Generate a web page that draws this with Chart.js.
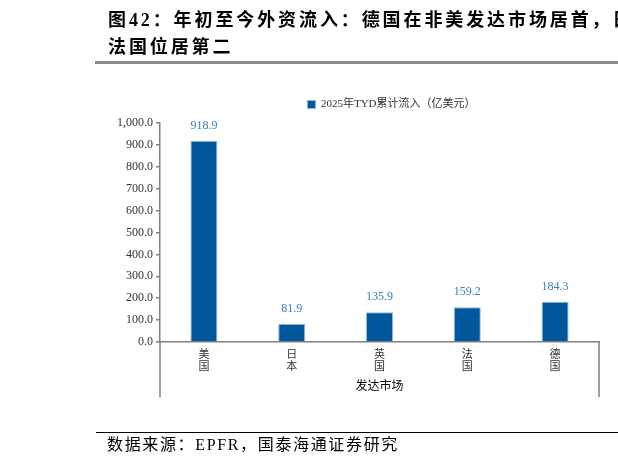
<!DOCTYPE html>
<html>
<head>
<meta charset="utf-8">
<script src="https://cdn.jsdelivr.net/npm/chart.js@4.4.1/dist/chart.umd.min.js"></script>
<style>
  html, body { margin: 0; padding: 0; background: #fff; overflow: hidden; }
  body { width: 618px; height: 469px; position: relative; }
  #chart-wrap { position: absolute; left: 0; top: 0; width: 618px; height: 469px; }
  .title {
    position: absolute; left: 108px; top: 7px; width: 560px;
    font-family: "Liberation Serif", "Noto Sans CJK SC", serif;
    font-weight: bold; font-size: 18px; line-height: 27px; letter-spacing: 2.9px;
    color: #000; white-space: nowrap;
  }
  .rule-top { position: absolute; left: 95px; top: 61px; width: 523px; height: 3px; background: #8c8c8c; }
  .rule-bottom { position: absolute; left: 96px; top: 432px; width: 522px; height: 1px; background: #000; }
  .source {
    position: absolute; left: 107px; top: 436px;
    font-family: "Liberation Serif", "Noto Sans CJK SC", serif;
    font-size: 16px; line-height: 18px; letter-spacing: 1.65px; color: #000; white-space: nowrap;
  }
</style>
</head>
<body>
<div id="chart-wrap"><canvas id="myChart" width="618" height="469"></canvas></div>
<div class="title">图42：年初至今外资流入：德国在非美发达市场居首，日<br>法国位居第二</div>
<div class="rule-top"></div>
<div class="rule-bottom"></div>
<div class="source">数据来源：EPFR，国泰海通证券研究</div>

<script>
// data
const markets = ['美国', '日本', '英国', '法国', '德国'];
const inflows = [918.9, 81.9, 135.9, 159.2, 184.3];
const seriesName = '2025年TYD累计流入（亿美元）';
const axisTitle = '发达市场';
const yTicks = [0, 100, 200, 300, 400, 500, 600, 700, 800, 900, 1000];

const barColor = '#01579b';
const labelColor = '#3b7dbf';
const axisColor = '#808080';
const serif = '"Liberation Serif", "Noto Sans CJK SC", serif';

let ctx = document.getElementById('myChart').getContext('2d');

// value labels above each bar
const valueLabels = {
    id: 'valueLabels',
    afterDatasetsDraw(chart) {
        const c = chart.ctx;
        const meta = chart.getDatasetMeta(0);
        c.save();
        c.font = '12px ' + serif;
        c.fillStyle = labelColor;
        c.textAlign = 'center';
        c.textBaseline = 'middle';
        meta.data.forEach((bar, i) => {
            c.fillText(inflows[i].toFixed(1), bar.x, bar.y - 15);
        });
        c.restore();
    },
};

// the frame lines that run down past the x axis
const frameLines = {
    id: 'frameLines',
    afterDraw(chart) {
        const a = chart.chartArea;
        const c = chart.ctx;
        c.save();
        c.strokeStyle = axisColor;
        c.lineWidth = 1.5;
        c.beginPath();
        c.moveTo(a.left, a.bottom);
        c.lineTo(a.left, a.bottom + 55);
        c.moveTo(a.right, a.bottom);
        c.lineTo(a.right, a.bottom + 55);
        c.stroke();
        c.restore();
    },
};

// legend: a bit more room below it, and nudged right like the reference
const legendTweak = {
    id: 'legendTweak',
    beforeInit(chart) {
        const fit = chart.legend.fit;
        chart.legend.fit = function () {
            fit.call(this);
            this.height += 3;
        };
    },
    afterLayout(chart) {
        chart.legend.left += 12;
        chart.legend.right += 12;
    },
};

new Chart(ctx, {
    type: 'bar',
    data: {
        labels: markets.map((m) => m.split('')),
        datasets: [
            {
                label: seriesName,
                data: inflows,
                backgroundColor: barColor,
                borderColor: '#8fb4da',
                borderWidth: 1,
                categoryPercentage: 1,
                barPercentage: 0.307,
            },
        ],
    },
    options: {
        responsive: false,
        animation: false,
        layout: { padding: { left: 0, right: 19, top: 85, bottom: 74 } },
        plugins: {
            legend: {
                position: 'top',
                fullSize: false,
                labels: {
                    boxWidth: 8,
                    boxHeight: 8,
                    padding: 14,
                    color: '#333',
                    font: { family: serif, size: 11 },
                },
            },
            tooltip: { enabled: false },
        },
        scales: {
            x: {
                grid: { display: false, drawTicks: false },
                border: { color: axisColor, width: 1.5 },
                ticks: {
                    color: '#333',
                    padding: 7,
                    maxRotation: 0,
                    font: { family: serif, size: 11, lineHeight: 1.1 },
                },
                title: {
                    display: true,
                    text: axisTitle,
                    color: '#000',
                    padding: { top: 4, bottom: 1 },
                    font: { family: serif, size: 12 },
                },
                afterFit(scale) {
                    scale.height = 53;
                },
            },
            y: {
                min: 0,
                max: 1000,
                afterBuildTicks(scale) {
                    scale.ticks = yTicks.map((v) => ({ value: v }));
                },
                grid: {
                    drawOnChartArea: false,
                    drawTicks: true,
                    tickLength: 4,
                    color: axisColor,
                    lineWidth: 1.5,
                },
                border: { color: axisColor, width: 1.5 },
                ticks: {
                    color: '#333',
                    padding: 3,
                    font: { family: serif, size: 12 },
                    callback: (v) => v.toLocaleString('en-US', { minimumFractionDigits: 1, maximumFractionDigits: 1 }),
                },
                afterFit(scale) {
                    scale.width = 160;
                },
            },
        },
    },
    plugins: [valueLabels, frameLines, legendTweak],
});
</script>
</body>
</html>
